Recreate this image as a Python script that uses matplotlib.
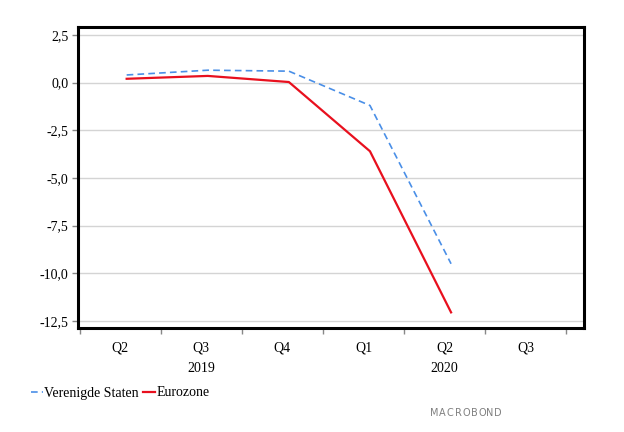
import matplotlib
matplotlib.use("Agg")
import matplotlib.pyplot as plt
import matplotlib.transforms as mtransforms
import numpy as np

quarters = ["Q2", "Q3", "Q4", "Q1", "Q2", "Q3"]
years = {1: "2019", 4: "2020"}
us_values = [0.4, 0.65, 0.6, -1.2, -9.5]
ez_values = [0.2, 0.35, 0.03, -3.6, -12.05]
y_ticks = [-12.5, -10.0, -7.5, -5.0, -2.5, 0.0, 2.5]

US_COLOR = "#4a8fe7"
EZ_COLOR = "#e8101e"

plt.rcParams["font.family"] = ["Liberation Serif", "DejaVu Serif"]

fig = plt.figure(figsize=(6.24, 4.32), dpi=100)
ax = fig.add_axes([0.125, 0.2407, 0.811, 0.697])

xs = np.arange(len(us_values)) + 0.58
ax.plot(xs, us_values, color=US_COLOR, lw=1.2, dashes=(4, 2.5), label="Verenigde Staten")
ax.plot(xs, ez_values, color=EZ_COLOR, lw=1.6, label="Eurozone")

ax.set_xlim(-0.02, 6.22)
ax.set_ylim(-12.87, 2.92)

ax.set_yticks(y_ticks)
ax.set_yticklabels([f"{v:.1f}".replace(".", ",") for v in y_ticks], fontsize=10)
ax.yaxis.grid(True, color="#d4d4d4", lw=1)
ax.set_axisbelow(True)

ax.set_xticks(np.arange(len(quarters) + 1))
ax.set_xticklabels([])
ax.set_xticks(np.arange(len(quarters)) + 0.5, minor=True)
ax.set_xticklabels(quarters, minor=True, fontsize=10)
ax.tick_params(axis="x", which="major", length=4, color="#888888", width=1)
ax.tick_params(axis="x", which="minor", length=0, pad=10)
ax.tick_params(axis="y", length=4, color="#888888", width=1, pad=3)

trans = mtransforms.blended_transform_factory(ax.transData, fig.transFigure)
for idx, year in years.items():
    ax.text(idx + 0.5, 1 - 368 / 432, year, transform=trans, ha="center", va="center", fontsize=10)

for spine in ax.spines.values():
    spine.set_linewidth(2.2)
    spine.set_color("black")

fig.legend(loc="center left", bbox_to_anchor=(0.05, 1 - 393 / 432), frameon=False, ncol=2,
           fontsize=10, handlelength=0.85, handletextpad=0.1, columnspacing=0.3, borderaxespad=0,
           borderpad=0)

# logo, letter by letter for the wide tracking
logo = "MACROBOND"
for i, ch in enumerate(logo):
    fig.text((434 + i * 8.0) / 624, 1 - 413 / 432, ch, family="DejaVu Sans", fontsize=7,
             color="#808080", ha="center", va="center")

fig.savefig("out.png", dpi=100)
